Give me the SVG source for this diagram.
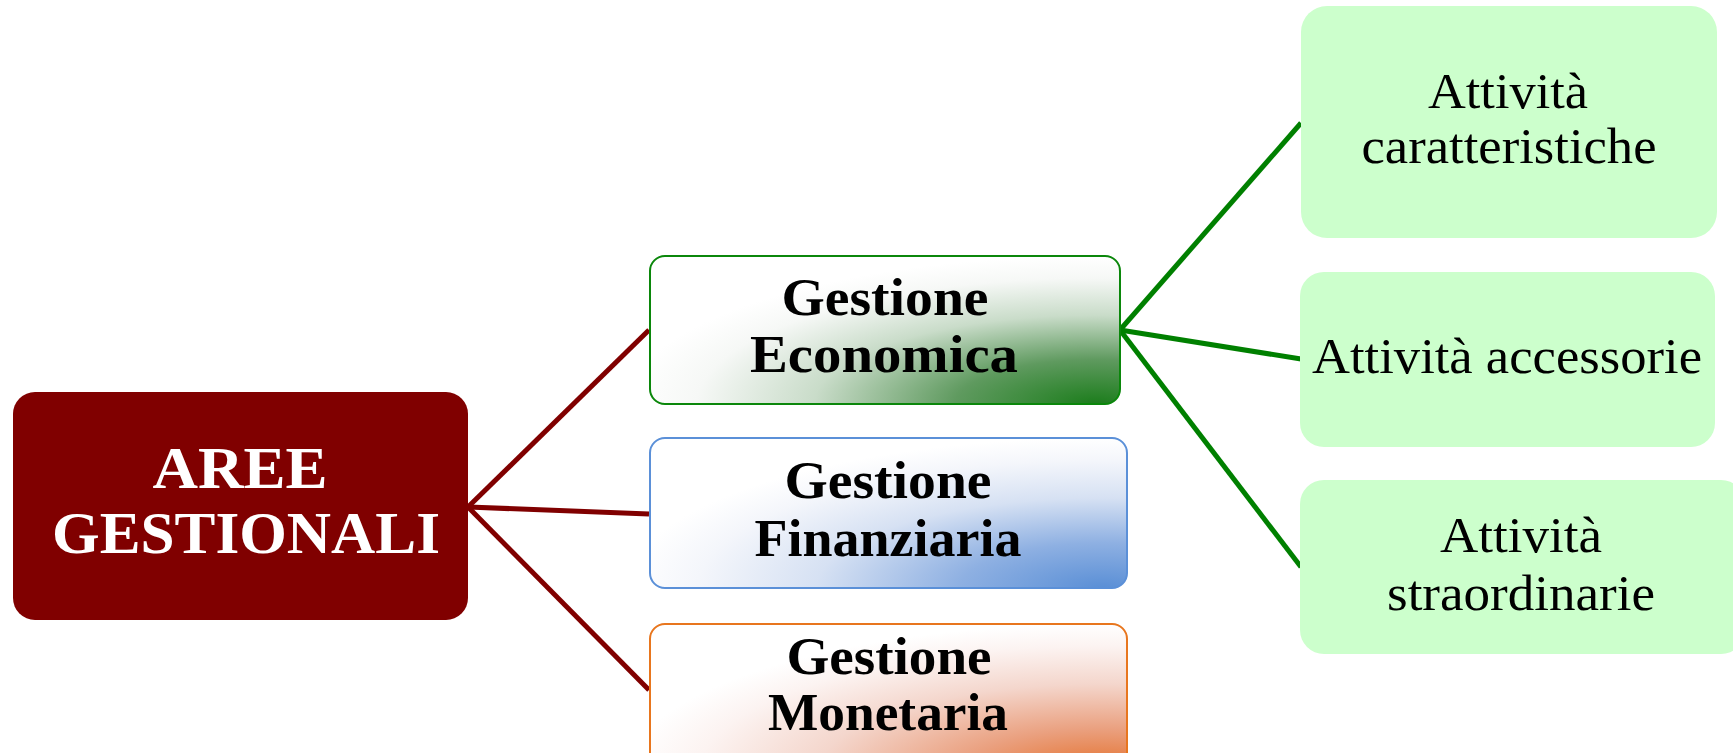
<svg xmlns="http://www.w3.org/2000/svg" width="1733" height="753" viewBox="0 0 1733 753">
<defs>
<radialGradient id="gGreen" cx="0.95" cy="1" r="1" fx="0.95" fy="1">
<stop offset="0" stop-color="#1c7d1c"/>
<stop offset="0.3" stop-color="#5f9a5f"/>
<stop offset="0.6" stop-color="#c9dcc9"/>
<stop offset="0.85" stop-color="#f6f8f6"/>
<stop offset="1" stop-color="#ffffff"/>
</radialGradient>
<radialGradient id="gBlue" cx="0.95" cy="1" r="1" fx="0.95" fy="1">
<stop offset="0" stop-color="#5a8fd6"/>
<stop offset="0.3" stop-color="#8eb0e2"/>
<stop offset="0.6" stop-color="#d6e1f3"/>
<stop offset="0.85" stop-color="#f4f6fb"/>
<stop offset="1" stop-color="#ffffff"/>
</radialGradient>
<radialGradient id="gOrange" cx="0.95" cy="1" r="1" fx="0.95" fy="1">
<stop offset="0" stop-color="#e46d26"/>
<stop offset="0.3" stop-color="#eaa07f"/>
<stop offset="0.6" stop-color="#f4d6cc"/>
<stop offset="0.85" stop-color="#fcf3f1"/>
<stop offset="1" stop-color="#ffffff"/>
</radialGradient>
</defs>
<style>
.bold { font-family: "Liberation Serif", "DejaVu Serif", serif; font-weight: bold; text-anchor: middle; fill: #000; }
.reg { font-family: "Liberation Serif", "DejaVu Serif", serif; font-size: 50px; text-anchor: middle; fill: #000; }
.root { font-family: "Liberation Serif", "DejaVu Serif", serif; font-weight: bold; font-size: 60px; text-anchor: middle; fill: #fff; }
.leaf { fill: #ccffcc; }
.conR { stroke: #800000; stroke-width: 5; fill: none; }
.conG { stroke: #008000; stroke-width: 5; fill: none; }
</style>
<rect width="1733" height="753" fill="#ffffff"/>
<g id="connectors">
<line class="conR" x1="468" y1="507" x2="649" y2="330"/>
<line class="conR" x1="468" y1="507" x2="649" y2="514"/>
<line class="conR" x1="468" y1="507" x2="649" y2="690"/>
<line class="conG" x1="1120" y1="330" x2="1301" y2="123"/>
<line class="conG" x1="1120" y1="330" x2="1301" y2="359"/>
<line class="conG" x1="1120" y1="330" x2="1301" y2="567"/>
</g>
<g id="root">
<rect x="13" y="392" width="455" height="228" rx="22" fill="#800000"/>
<text class="root" x="240" y="488" textLength="175" lengthAdjust="spacingAndGlyphs">AREE</text>
<text class="root" x="246" y="553" textLength="388" lengthAdjust="spacingAndGlyphs">GESTIONALI</text>
</g>
<g id="economica">
<rect x="650" y="256" width="470" height="148" rx="15" fill="url(#gGreen)" stroke="#0b870b" stroke-width="2"/>
<text class="bold" font-size="52" x="885" y="315" textLength="207" lengthAdjust="spacingAndGlyphs">Gestione</text>
<text class="bold" font-size="52" x="884" y="372" textLength="268" lengthAdjust="spacingAndGlyphs">Economica</text>
</g>
<g id="finanziaria">
<rect x="650" y="438" width="477" height="150" rx="15" fill="url(#gBlue)" stroke="#5b90d8" stroke-width="2"/>
<text class="bold" font-size="52" x="888" y="498" textLength="207" lengthAdjust="spacingAndGlyphs">Gestione</text>
<text class="bold" font-size="52" x="888" y="556" textLength="267" lengthAdjust="spacingAndGlyphs">Finanziaria</text>
</g>
<g id="monetaria">
<rect x="650" y="624" width="477" height="150" rx="15" fill="url(#gOrange)" stroke="#e8761e" stroke-width="2"/>
<text class="bold" font-size="52" x="889" y="674" textLength="205" lengthAdjust="spacingAndGlyphs">Gestione</text>
<text class="bold" font-size="52" x="888" y="730" textLength="240" lengthAdjust="spacingAndGlyphs">Monetaria</text>
</g>
<g id="caratteristiche">
<rect class="leaf" x="1301" y="6" width="416" height="232" rx="26"/>
<text class="reg" x="1508" y="108" textLength="160" lengthAdjust="spacingAndGlyphs">Attività</text>
<text class="reg" x="1509" y="163" textLength="295" lengthAdjust="spacingAndGlyphs">caratteristiche</text>
</g>
<g id="accessorie">
<rect class="leaf" x="1300" y="272" width="415" height="175" rx="24"/>
<text class="reg" x="1507" y="373" textLength="390" lengthAdjust="spacingAndGlyphs">Attività accessorie</text>
</g>
<g id="straordinarie">
<rect class="leaf" x="1300" y="480" width="445" height="174" rx="24"/>
<text class="reg" x="1521" y="552" textLength="162" lengthAdjust="spacingAndGlyphs">Attività</text>
<text class="reg" x="1521" y="610" textLength="268" lengthAdjust="spacingAndGlyphs">straordinarie</text>
</g>
</svg>
